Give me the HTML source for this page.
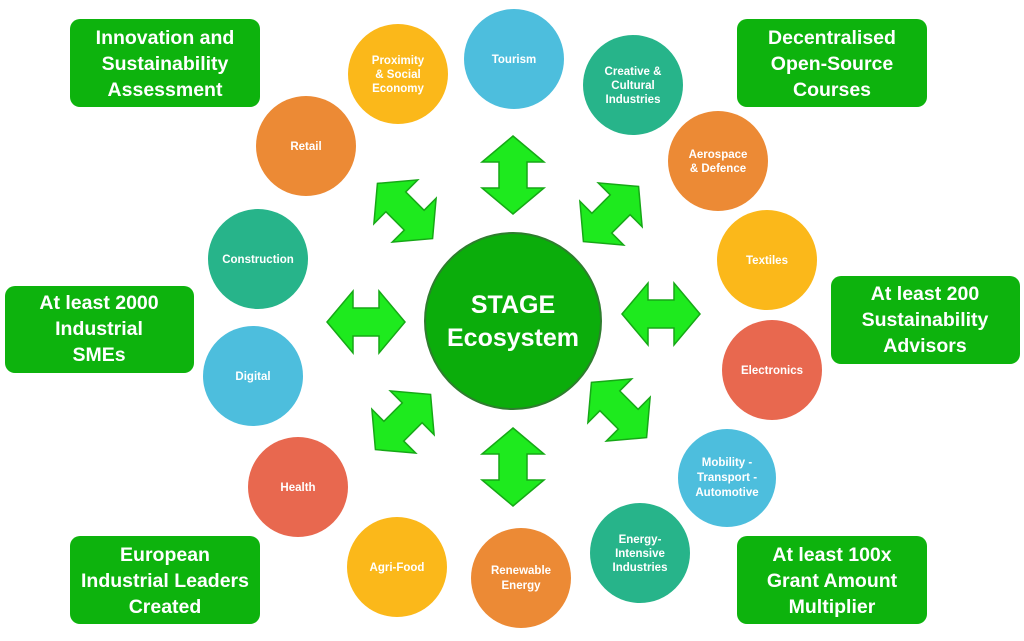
<!DOCTYPE html>
<html><head><meta charset="utf-8"><style>
html,body{margin:0;padding:0;background:#fff;}
svg{display:block;}
text{font-family:"Liberation Sans",Arial,sans-serif;font-weight:bold;fill:#fff;text-anchor:middle;}
.c{font-size:11.5px;}
.b{font-size:19.5px;}
</style></head><body>
<svg width="1024" height="641" viewBox="0 0 1024 641" xmlns="http://www.w3.org/2000/svg">
<defs>
<path id="ar" d="M-39,0 L-13,-31 L-13,-14 L13,-14 L13,-31 L39,0 L13,31 L13,14 L-13,14 L-13,31 Z" fill="#1EEA1E" stroke="#16A816" stroke-width="1.5"/>
</defs>
<!-- boxes -->
<g fill="#0DB30D">
<rect x="70" y="19" width="190" height="88" rx="10"/>
<rect x="737" y="19" width="190" height="88" rx="10"/>
<rect x="5" y="286" width="189" height="87" rx="10"/>
<rect x="831" y="276" width="189" height="88" rx="10"/>
<rect x="70" y="536" width="190" height="88" rx="10"/>
<rect x="737" y="536" width="190" height="88" rx="10"/>
</g>
<text class="b" x="165" y="44">Innovation and</text>
<text class="b" x="165" y="70">Sustainability</text>
<text class="b" x="165" y="96">Assessment</text>
<text class="b" x="832" y="44">Decentralised</text>
<text class="b" x="832" y="70">Open-Source</text>
<text class="b" x="832" y="96">Courses</text>
<text class="b" x="99" y="309">At least 2000</text>
<text class="b" x="99" y="335">Industrial</text>
<text class="b" x="99" y="361">SMEs</text>
<text class="b" x="925" y="300">At least 200</text>
<text class="b" x="925" y="326">Sustainability</text>
<text class="b" x="925" y="352">Advisors</text>
<text class="b" x="165" y="561">European</text>
<text class="b" x="165" y="587">Industrial Leaders</text>
<text class="b" x="165" y="613">Created</text>
<text class="b" x="832" y="561">At least 100x</text>
<text class="b" x="832" y="587">Grant Amount</text>
<text class="b" x="832" y="613">Multiplier</text>
<!-- circles -->
<circle cx="398" cy="74" r="50" fill="#FBB81A"/>
<circle cx="514" cy="59" r="50" fill="#4DBEDD"/>
<circle cx="633" cy="85" r="50" fill="#27B48A"/>
<circle cx="718" cy="161" r="50" fill="#EC8A35"/>
<circle cx="767" cy="260" r="50" fill="#FBB81A"/>
<circle cx="772" cy="370" r="50" fill="#E8684F"/>
<circle cx="727" cy="478" r="49" fill="#4DBEDD"/>
<circle cx="640" cy="553" r="50" fill="#27B48A"/>
<circle cx="521" cy="578" r="50" fill="#EC8A35"/>
<circle cx="397" cy="567" r="50" fill="#FBB81A"/>
<circle cx="298" cy="487" r="50" fill="#E8684F"/>
<circle cx="253" cy="376" r="50" fill="#4DBEDD"/>
<circle cx="258" cy="259" r="50" fill="#27B48A"/>
<circle cx="306" cy="146" r="50" fill="#EC8A35"/>
<text class="c" x="398" y="64">Proximity</text>
<text class="c" x="398" y="78">&amp; Social</text>
<text class="c" x="398" y="92">Economy</text>
<text class="c" x="514" y="63">Tourism</text>
<text class="c" x="633" y="75">Creative &amp;</text>
<text class="c" x="633" y="89">Cultural</text>
<text class="c" x="633" y="103">Industries</text>
<text class="c" x="718" y="158">Aerospace</text>
<text class="c" x="718" y="172">&amp; Defence</text>
<text class="c" x="767" y="264">Textiles</text>
<text class="c" x="772" y="374">Electronics</text>
<text class="c" x="727" y="466">Mobility -</text>
<text class="c" x="727" y="481">Transport -</text>
<text class="c" x="727" y="496">Automotive</text>
<text class="c" x="640" y="543">Energy-</text>
<text class="c" x="640" y="557">Intensive</text>
<text class="c" x="640" y="571">Industries</text>
<text class="c" x="521" y="574">Renewable</text>
<text class="c" x="521" y="589">Energy</text>
<text class="c" x="397" y="571">Agri-Food</text>
<text class="c" x="298" y="491">Health</text>
<text class="c" x="253" y="380">Digital</text>
<text class="c" x="258" y="263">Construction</text>
<text class="c" x="306" y="150">Retail</text>
<!-- center -->
<circle cx="513" cy="321" r="88" fill="#0BAD0B" stroke="#2E7D2E" stroke-width="2"/>
<text x="513" y="313" style="font-size:25px">STAGE</text>
<text x="513" y="346" style="font-size:25px">Ecosystem</text>
<!-- arrows -->
<use href="#ar" transform="translate(513,175) rotate(90)"/>
<use href="#ar" transform="translate(513,467) rotate(90)"/>
<use href="#ar" transform="translate(366,322)"/>
<use href="#ar" transform="translate(661,314)"/>
<use href="#ar" transform="translate(405,211) rotate(45)"/>
<use href="#ar" transform="translate(611,214) rotate(-45)"/>
<use href="#ar" transform="translate(403,422) rotate(-45)"/>
<use href="#ar" transform="translate(619,410) rotate(45)"/>
</svg>
</body></html>
